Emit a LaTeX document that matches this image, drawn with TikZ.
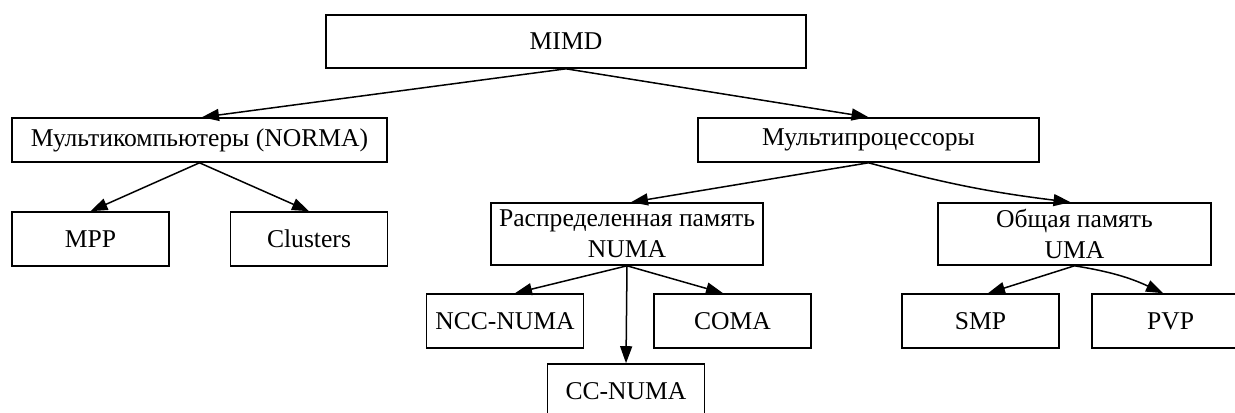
\documentclass[tikz,border=0pt]{standalone}
\usepackage{fontspec}
\setmainfont{Liberation Serif}
\usetikzlibrary{arrows.meta,calc}

\tikzset{
  box/.style={draw=black, line width=0.8pt, fill=white, inner sep=0pt,
    align=center, font=\fontsize{12.8}{15.5}\selectfont},
  smallbox/.style={box, minimum width=78.5pt, minimum height=27pt},
  link/.style={line width=0.75pt, -{Triangle[length=8.5pt,width=6pt]}}
}

\begin{document}
\begin{tikzpicture}[x=0.5pt,y=-0.5pt]
  \useasboundingbox (0,0) rectangle (1235,412);
  \clip (0,0) rectangle (1235,412);
  \fill[white] (0,0) rectangle (1235,412);

  % root
  \node[box, minimum width=240pt, minimum height=26.5pt] (mimd) at (566,41.5) {MIMD};

  % second level
  \node[box, minimum width=187.5pt, minimum height=22pt] (norma) at (199.5,140) {Мультикомпьютеры (NORMA)};
  \node[box, minimum width=170.5pt, minimum height=22pt] (mp) at (868.5,140) {Мультипроцессоры};

  % multicomputers
  \node[smallbox] (mpp) at (90.5,239) {MPP};
  \node[smallbox] (cl) at (309,239) {Clusters};

  % multiprocessors
  \node[box, minimum width=136pt, minimum height=31pt] (numa) at (627,234) {Распределенная память\\NUMA};
  \node[box, minimum width=136.5pt, minimum height=31pt] (uma) at (1074.5,234) {Общая память\\UMA};

  % NUMA family
  \node[smallbox] (ncc) at (505,321) {NCC-NUMA};
  \node[smallbox] (coma) at (732.5,321) {COMA};
  \node[smallbox] (cc) at (626,391) {CC-NUMA};

  % UMA family
  \node[smallbox] (smp) at (980.5,321) {SMP};
  \node[smallbox] (pvp) at (1170.5,321) {PVP};

  % connectors
  \draw[link] (mimd.south) -- ($(norma.north)+(2.5,0)$);
  \draw[link] (mimd.south) -- (mp.north);
  \draw[link] (norma.south) -- (mpp.north);
  \draw[link] (norma.south) -- (cl.north);
  \draw[link] (mp.south) -- ($(numa.north)+(4,0)$);
  \draw[link] (mp.south) to[bend right=4] ($(uma.north)+(-4,0)$);
  \draw[link] (numa.south) -- ($(ncc.north)+(10,0)$);
  \draw[link] (numa.south) -- ($(coma.north)+(-9.5,0)$);
  \draw[link] (numa.south) -- (cc.north);
  \draw[link] (uma.south) -- ($(smp.north)+(7.5,0)$);
  \draw[link] (uma.south) to[bend left=8] ($(pvp.north)+(-7.5,0)$);
\end{tikzpicture}
\end{document}
